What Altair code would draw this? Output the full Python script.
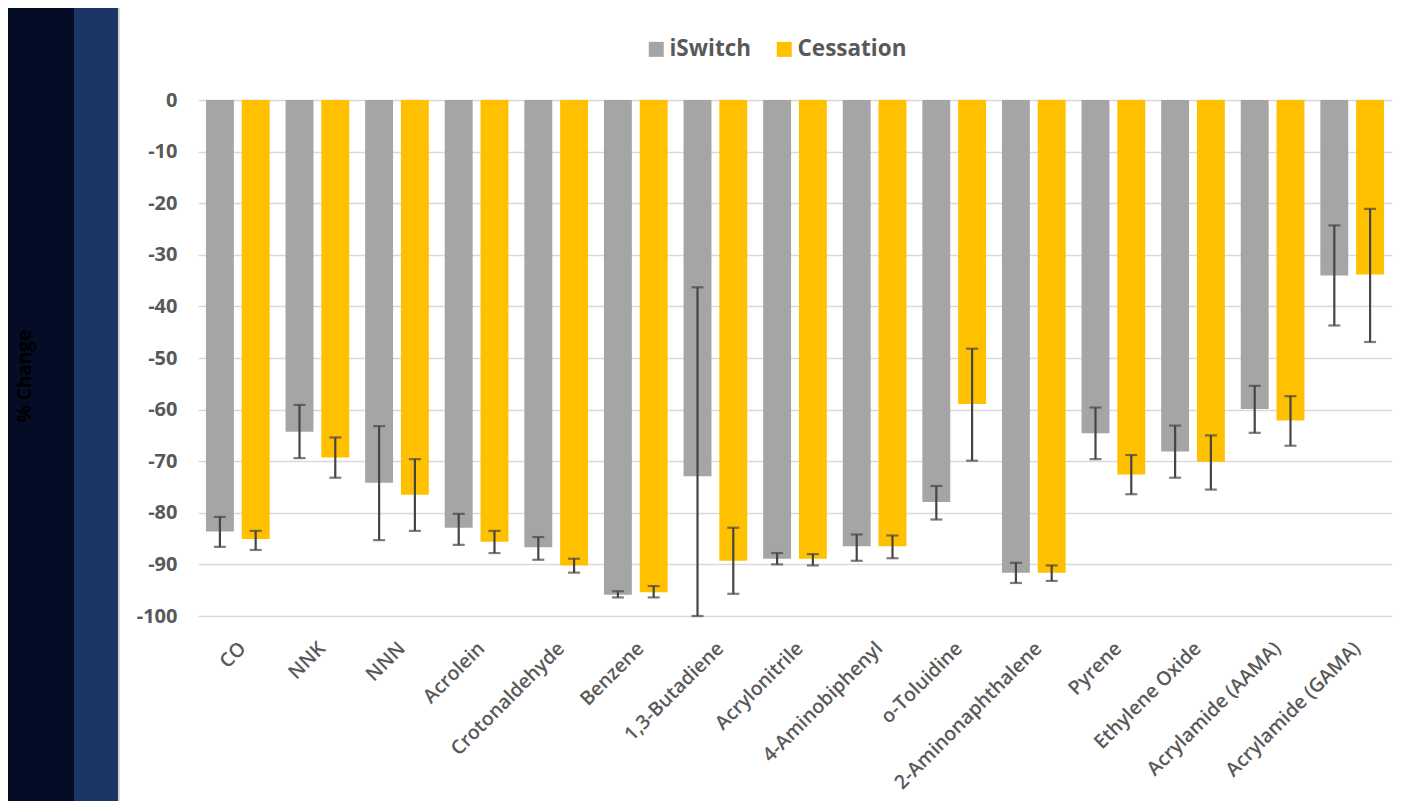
import altair as alt
import pandas as pd

categories = ["CO", "NNK", "NNN", "Acrolein", "Crotonaldehyde", "Benzene",
              "1,3-Butadiene", "Acrylonitrile", "4-Aminobiphenyl", "o-Toluidine",
              "2-Aminonaphthalene", "Pyrene", "Ethylene Oxide",
              "Acrylamide (AAMA)", "Acrylamide (GAMA)"]
groups = ["iSwitch", "Cessation"]

iswitch = [-83.6, -64.3, -74.2, -82.9, -86.7, -95.9, -72.9, -88.9, -86.5,
           -77.9, -91.6, -64.6, -68.1, -59.9, -34.0]
iswitch_hi = [-80.8, -59.1, -63.2, -80.2, -84.7, -95.2, -36.3, -87.8, -84.2,
              -74.8, -89.7, -59.6, -63.1, -55.4, -24.3]
iswitch_lo = [-86.6, -69.4, -85.3, -86.2, -89.1, -96.4, -100.0, -90.0, -89.3,
              -81.3, -93.6, -69.6, -73.2, -64.5, -43.7]

cessation = [-85.1, -69.3, -76.5, -85.6, -90.2, -95.4, -89.3, -88.9, -86.5,
             -58.9, -91.6, -72.6, -70.1, -62.1, -33.8]
cessation_hi = [-83.5, -65.4, -69.6, -83.5, -88.9, -94.2, -82.9, -88.0, -84.4,
                -48.2, -90.2, -68.8, -65.0, -57.4, -21.1]
cessation_lo = [-87.2, -73.2, -83.5, -87.8, -91.6, -96.4, -95.7, -90.2, -88.8,
                -69.9, -93.2, -76.4, -75.5, -67.0, -46.9]

y_ticks = [0, -10, -20, -30, -40, -50, -60, -70, -80, -90, -100]

rows = []
for i, c in enumerate(categories):
    rows.append(dict(category=c, group="iSwitch", value=iswitch[i],
                     lo=iswitch_lo[i], hi=iswitch_hi[i]))
    rows.append(dict(category=c, group="Cessation", value=cessation[i],
                     lo=cessation_lo[i], hi=cessation_hi[i]))
df = pd.DataFrame(rows)

FONT = "Open Sans"
TXT = "#595959"

x_enc = alt.X("category:N", sort=categories, title=None,
              scale=alt.Scale(paddingInner=0.2, paddingOuter=0.1),
              axis=alt.Axis(labelAngle=-45, labelAlign="right", labelBaseline="middle",
                            labelPadding=29, labelOffset=5, labelLimit=400,
                            ticks=False, tickSize=0,
                            domain=False, grid=False, labelFont=FONT,
                            labelFontSize=19.5, labelFontWeight=600, labelColor=TXT))
xo_enc = alt.XOffset("group:N", sort=groups, scale=alt.Scale(paddingInner=0.22))
y_scale = alt.Scale(domain=[-100, 0], nice=False)

one = pd.DataFrame({"k": [0]})

left_dark = alt.Chart(one).mark_rect(color="#050c26", clip=False).encode(
    x=alt.value(-190), x2=alt.value(-124), y=alt.value(-92), y2=alt.value(701))
left_mid = alt.Chart(one).mark_rect(color="#1b3565", clip=False).encode(
    x=alt.value(-124), x2=alt.value(-80), y=alt.value(-92), y2=alt.value(701))
panel_edge = alt.Chart(one).mark_rect(color="#d6d6d6", clip=False).encode(
    x=alt.value(-80), x2=alt.value(-78), y=alt.value(-92), y2=alt.value(701))

bars = alt.Chart(df).mark_bar().encode(
    x=x_enc,
    xOffset=xo_enc,
    y=alt.Y("value:Q", scale=y_scale, title=None,
            axis=alt.Axis(values=y_ticks, ticks=False, tickSize=0, domain=False,
                          labelExpr="toString(datum.value)",
                          labelPadding=21, labelFont=FONT, labelFontSize=20,
                          labelFontWeight="bold", labelColor=TXT,
                          grid=True, gridColor="#d9d9d9", gridWidth=1.6)),
    color=alt.Color("group:N", sort=groups,
                    scale=alt.Scale(domain=groups, range=["#a5a5a5", "#ffc000"]),
                    legend=alt.Legend(title=None, orient="none", direction="horizontal",
                                      legendX=447, legendY=-62, symbolType="square",
                                      symbolSize=225, symbolStrokeWidth=0,
                                      labelFont=FONT, labelFontSize=22.5,
                                      labelFontWeight="bold", labelColor=TXT,
                                      labelOffset=2, columnPadding=21)),
)

err = alt.Chart(df).mark_rule(color="#454545", strokeWidth=2.2).encode(
    x=alt.X("category:N", sort=categories),
    xOffset=xo_enc,
    y=alt.Y("lo:Q", scale=y_scale, title=None),
    y2="hi:Q",
)
cap_lo = alt.Chart(df).mark_tick(color="#454545", thickness=2.2, size=12).encode(
    x=alt.X("category:N", sort=categories),
    xOffset=xo_enc,
    y=alt.Y("lo:Q", scale=y_scale, title=None),
)
cap_hi = alt.Chart(df).mark_tick(color="#454545", thickness=2.2, size=12).encode(
    x=alt.X("category:N", sort=categories),
    xOffset=xo_enc,
    y=alt.Y("hi:Q", scale=y_scale, title=None),
)

ytitle = alt.Chart(one).mark_text(angle=270, font=FONT, fontSize=19, fontWeight="bold",
                                  color="#000000", align="center", baseline="middle",
                                  clip=False).encode(
    x=alt.value(-173), y=alt.value(276), text=alt.value("% Change"))

chart = alt.layer(left_dark, left_mid, panel_edge, bars, err, cap_lo, cap_hi, ytitle).properties(
    width=1194, height=516,
    autosize=alt.AutoSizeParams(type="none"),
    padding={"left": 190, "top": 92, "right": 28, "bottom": 185},
    background="#ffffff",
).configure_view(stroke=None)

chart.save("out.html", embed_options={"renderer": "svg", "actions": False})
